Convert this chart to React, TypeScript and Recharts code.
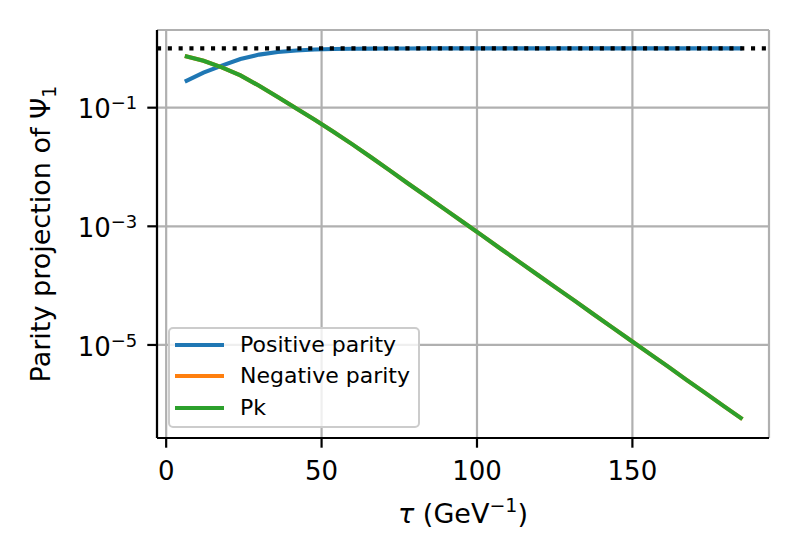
import {
  LineChart,
  Line,
  XAxis,
  YAxis,
  CartesianGrid,
  ReferenceLine,
  Legend,
} from "recharts";

const tau = [
  6.0, 12.0, 17.9, 23.9, 29.9, 35.9, 41.9, 47.8, 53.8, 59.8, 65.8, 71.8, 77.7,
  83.7, 89.7, 95.7, 101.7, 107.6, 113.6, 119.6, 125.6, 131.6, 137.5, 143.5,
  149.5, 155.5, 161.5, 167.4, 173.4, 179.4, 185.4,
];

const positiveParity = [
  0.275, 0.389, 0.513, 0.661, 0.785, 0.871, 0.923, 0.955, 0.973, 0.984, 0.99,
  0.994, 0.996, 0.998, 0.999, 0.999, 0.999, 1.0, 1.0, 1.0, 1.0, 1.0, 1.0, 1.0,
  1.0, 1.0, 1.0, 1.0, 1.0, 1.0, 1.0,
];

// hidden underneath Pk in the picture
const negativeParity = [
  0.741, 0.617, 0.479, 0.351, 0.234, 0.151, 0.0966, 0.0624, 0.0394, 0.0243,
  0.01472, 0.00887, 0.00533, 0.00321, 0.00193, 0.001159, 6.97e-4, 4.19e-4,
  2.52e-4, 1.514e-4, 9.1e-5, 5.47e-5, 3.29e-5, 1.977e-5, 1.189e-5, 7.14e-6,
  4.3e-6, 2.58e-6, 1.552e-6, 9.33e-7, 5.61e-7,
];

const pk = [
  0.741, 0.617, 0.479, 0.351, 0.234, 0.151, 0.0966, 0.0624, 0.0394, 0.0243,
  0.01472, 0.00887, 0.00533, 0.00321, 0.00193, 0.001159, 6.97e-4, 4.19e-4,
  2.52e-4, 1.514e-4, 9.1e-5, 5.47e-5, 3.29e-5, 1.977e-5, 1.189e-5, 7.14e-6,
  4.3e-6, 2.58e-6, 1.552e-6, 9.33e-7, 5.61e-7,
];

const X_TICKS = [0, 50, 100, 150];
const Y_TICKS = [1e-1, 1e-3, 1e-5];
const Y_TICK_EXPONENTS = [-1, -3, -5];
const PARITY_LEVEL = 1;

const SERIES = [
  { key: "positive", name: "Positive parity", color: "#1f77b4" },
  { key: "negative", name: "Negative parity", color: "#ff7f0e" },
  { key: "pk", name: "Pk", color: "#2ca02c" },
];

const data = tau.map((t, i) => ({
  tau: t,
  positive: positiveParity[i],
  negative: negativeParity[i],
  pk: pk[i],
}));

const FONT = "DejaVu Sans";
const TICK_SIZE = 9.7;

function XTick({ x, y, payload }: any) {
  return (
    <text x={x} y={y + 32.3} textAnchor="middle" fontSize={26} fontFamily={FONT} fill="#000">
      {payload.value}
    </text>
  );
}

function YTick({ x, y, payload }: any) {
  const exp = Y_TICK_EXPONENTS[Y_TICKS.indexOf(payload.value)];
  return (
    <text x={x - 10} y={y + 10.6} textAnchor="end" fontSize={26} fontFamily={FONT} fill="#000">
      <tspan>10</tspan>
      <tspan dy={-9} fontSize={18}>
        {"\u2212" + Math.abs(exp)}
      </tspan>
    </text>
  );
}

function XTitle({ viewBox }: any) {
  const { x, y, width } = viewBox;
  return (
    <text x={x + width / 2} y={y + 85} textAnchor="middle" fontSize={27} fontFamily={FONT} fill="#000">
      <tspan fontStyle="italic">τ</tspan>
      <tspan> (GeV</tspan>
      <tspan dy={-11} fontSize={19}>
        {"\u22121"}
      </tspan>
      <tspan dy={11}>)</tspan>
    </text>
  );
}

function YTitle({ viewBox }: any) {
  const { x, y, height } = viewBox;
  const cx = x + 50;
  const cy = y + height / 2;
  return (
    <text
      x={cx}
      y={cy}
      textAnchor="middle"
      fontSize={27}
      fontFamily={FONT}
      fill="#000"
      transform={`rotate(-90, ${cx}, ${cy})`}
    >
      <tspan>Parity projection of Ψ</tspan>
      <tspan dy={6} fontSize={19}>
        1
      </tspan>
    </text>
  );
}

function LegendBox() {
  return (
    <div
      style={{
        position: "relative",
        boxSizing: "border-box",
        width: 252,
        height: 101,
        border: "2px solid #cccccc",
        borderRadius: 5,
        background: "rgba(255,255,255,0.8)",
        fontFamily: FONT,
        fontSize: 22,
        color: "#000",
      }}
    >
      {SERIES.map((s, i) => (
        <div
          key={s.key}
          style={{
            position: "absolute",
            left: 5,
            top: 0.5 + i * 31.5,
            height: 30,
            display: "flex",
            alignItems: "center",
            whiteSpace: "nowrap",
          }}
        >
          <div style={{ width: 49, height: 4, background: s.color }} />
          <span style={{ marginLeft: 16, lineHeight: "30px" }}>{s.name}</span>
        </div>
      ))}
    </div>
  );
}

export default function App() {
  return (
    <div style={{ position: "absolute", left: 0, top: 0, width: 800, height: 560, background: "#fff" }}>
      <LineChart
        width={800}
        height={560}
        data={data}
        margin={{ top: 30, right: 31, bottom: 32, left: 0 }}
        style={{ fontFamily: FONT }}
      >
        <CartesianGrid stroke="#b0b0b0" strokeWidth={2.2} />
        <XAxis
          dataKey="tau"
          type="number"
          domain={[-2.95, 193.95]}
          ticks={X_TICKS}
          allowDataOverflow
          height={90}
          tickSize={TICK_SIZE}
          tickMargin={0}
          tick={<XTick />}
          tickLine={{ stroke: "#000", strokeWidth: 2.2 }}
          axisLine={{ stroke: "#000", strokeWidth: 2.2 }}
          label={{ content: (p: any) => <XTitle {...p} /> }}
        />
        <XAxis
          xAxisId="top"
          orientation="top"
          type="number"
          domain={[0, 1]}
          height={0}
          tick={false}
          tickLine={false}
          axisLine={{ stroke: "#000", strokeWidth: 2.2 }}
        />
        <YAxis
          scale="log"
          type="number"
          domain={[2.7e-7, 2.04]}
          ticks={Y_TICKS}
          allowDataOverflow
          width={157}
          tickSize={TICK_SIZE}
          tickMargin={0}
          tick={<YTick />}
          tickLine={{ stroke: "#000", strokeWidth: 2.2 }}
          axisLine={{ stroke: "#000", strokeWidth: 2.2 }}
          label={{ content: (p: any) => <YTitle {...p} /> }}
        />
        <YAxis
          yAxisId="right"
          orientation="right"
          type="number"
          domain={[0, 1]}
          width={0}
          tick={false}
          tickLine={false}
          axisLine={{ stroke: "#000", strokeWidth: 2.2 }}
        />
        {SERIES.map((s) => (
          <Line
            key={s.key}
            dataKey={s.key}
            name={s.name}
            type="linear"
            stroke={s.color}
            strokeWidth={4.1}
            dot={false}
            activeDot={false}
            isAnimationActive={false}
          />
        ))}
        <ReferenceLine
          y={PARITY_LEVEL}
          stroke="#000"
          strokeWidth={4.1}
          strokeDasharray="4.1 6.7"
          zIndex={450}
        />
        <Legend
          layout="vertical"
          align="center"
          verticalAlign="middle"
          wrapperStyle={{ left: 168, top: 327, width: 252, height: 101 }}
          content={() => <LegendBox />}
        />
      </LineChart>
    </div>
  );
}
